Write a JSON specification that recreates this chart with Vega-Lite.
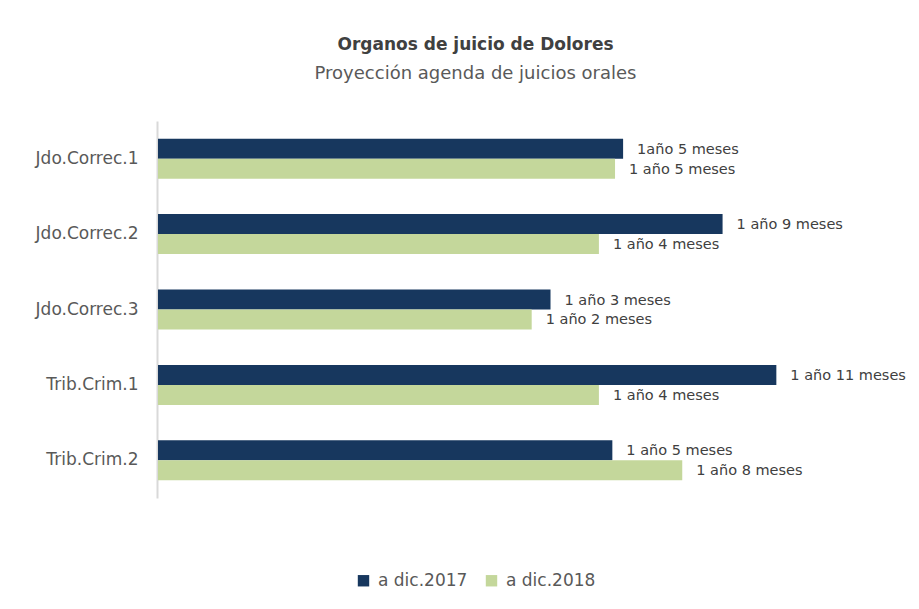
{
  "$schema": "https://vega.github.io/schema/vega-lite/v6.json",
  "autosize": "none",
  "padding": {"left": 158, "top": 121, "right": 62, "bottom": 111},
  "width": 699,
  "height": 377,
  "background": "white",
  "title": {
    "text": "Organos de juicio de Dolores",
    "subtitle": "Proyección agenda de juicios orales",
    "anchor": "middle",
    "dx": -32,
    "offset": 37,
    "font": "DejaVu Sans",
    "fontSize": 17,
    "fontWeight": "bold",
    "color": "#404040",
    "subtitleFont": "DejaVu Sans",
    "subtitleFontSize": 18,
    "subtitleColor": "#595959",
    "subtitlePadding": 11
  },
  "data": {
    "values": [
      {"organo": "Jdo.Correc.1", "serie": "a dic.2017", "meses": 17.3, "etiqueta": "1año 5 meses"},
      {"organo": "Jdo.Correc.1", "serie": "a dic.2018", "meses": 17.0, "etiqueta": "1 año 5 meses"},
      {"organo": "Jdo.Correc.2", "serie": "a dic.2017", "meses": 21.0, "etiqueta": "1 año 9 meses"},
      {"organo": "Jdo.Correc.2", "serie": "a dic.2018", "meses": 16.4, "etiqueta": "1 año 4 meses"},
      {"organo": "Jdo.Correc.3", "serie": "a dic.2017", "meses": 14.6, "etiqueta": "1 año 3 meses"},
      {"organo": "Jdo.Correc.3", "serie": "a dic.2018", "meses": 13.9, "etiqueta": "1 año 2 meses"},
      {"organo": "Trib.Crim.1", "serie": "a dic.2017", "meses": 23.0, "etiqueta": "1 año 11 meses"},
      {"organo": "Trib.Crim.1", "serie": "a dic.2018", "meses": 16.4, "etiqueta": "1 año 4 meses"},
      {"organo": "Trib.Crim.2", "serie": "a dic.2017", "meses": 16.9, "etiqueta": "1 año 5 meses"},
      {"organo": "Trib.Crim.2", "serie": "a dic.2018", "meses": 19.5, "etiqueta": "1 año 8 meses"}
    ]
  },
  "encoding": {
    "y": {
      "field": "organo",
      "type": "nominal",
      "sort": ["Jdo.Correc.1", "Jdo.Correc.2", "Jdo.Correc.3", "Trib.Crim.1", "Trib.Crim.2"],
      "scale": {"paddingInner": 0.47, "paddingOuter": 0.235},
      "axis": {
        "title": null,
        "ticks": false,
        "domainColor": "#D9D9D9",
        "domainWidth": 2,
        "offset": 1,
        "labelPadding": 19,
        "labelFont": "DejaVu Sans",
        "labelFontSize": 17,
        "labelColor": "#595959"
      }
    },
    "yOffset": {
      "field": "serie",
      "type": "nominal",
      "sort": ["a dic.2017", "a dic.2018"],
      "scale": {"paddingInner": 0, "paddingOuter": 0}
    },
    "x": {
      "field": "meses",
      "type": "quantitative",
      "scale": {"domain": [0, 26], "nice": false},
      "axis": null
    }
  },
  "layer": [
    {
      "mark": {"type": "bar", "cornerRadius": 0},
      "encoding": {
        "color": {
          "field": "serie",
          "type": "nominal",
          "scale": {"domain": ["a dic.2017", "a dic.2018"], "range": ["#17375E", "#C4D79B"]},
          "legend": {
            "title": null,
            "orient": "none",
            "direction": "horizontal",
            "legendX": 197,
            "legendY": 451,
            "symbolType": "square",
            "symbolSize": 130,
            "symbolStrokeWidth": 0,
            "labelFont": "DejaVu Sans",
            "labelFontSize": 17,
            "labelColor": "#595959",
            "columnPadding": 15,
            "labelOffset": 6
          }
        }
      }
    },
    {
      "mark": {
        "type": "text",
        "align": "left",
        "baseline": "middle",
        "dx": 14,
        "dy": 1,
        "font": "DejaVu Sans",
        "fontSize": 14.5,
        "color": "#404040"
      },
      "encoding": {"text": {"field": "etiqueta"}}
    }
  ],
  "config": {"view": {"stroke": null}}
}
